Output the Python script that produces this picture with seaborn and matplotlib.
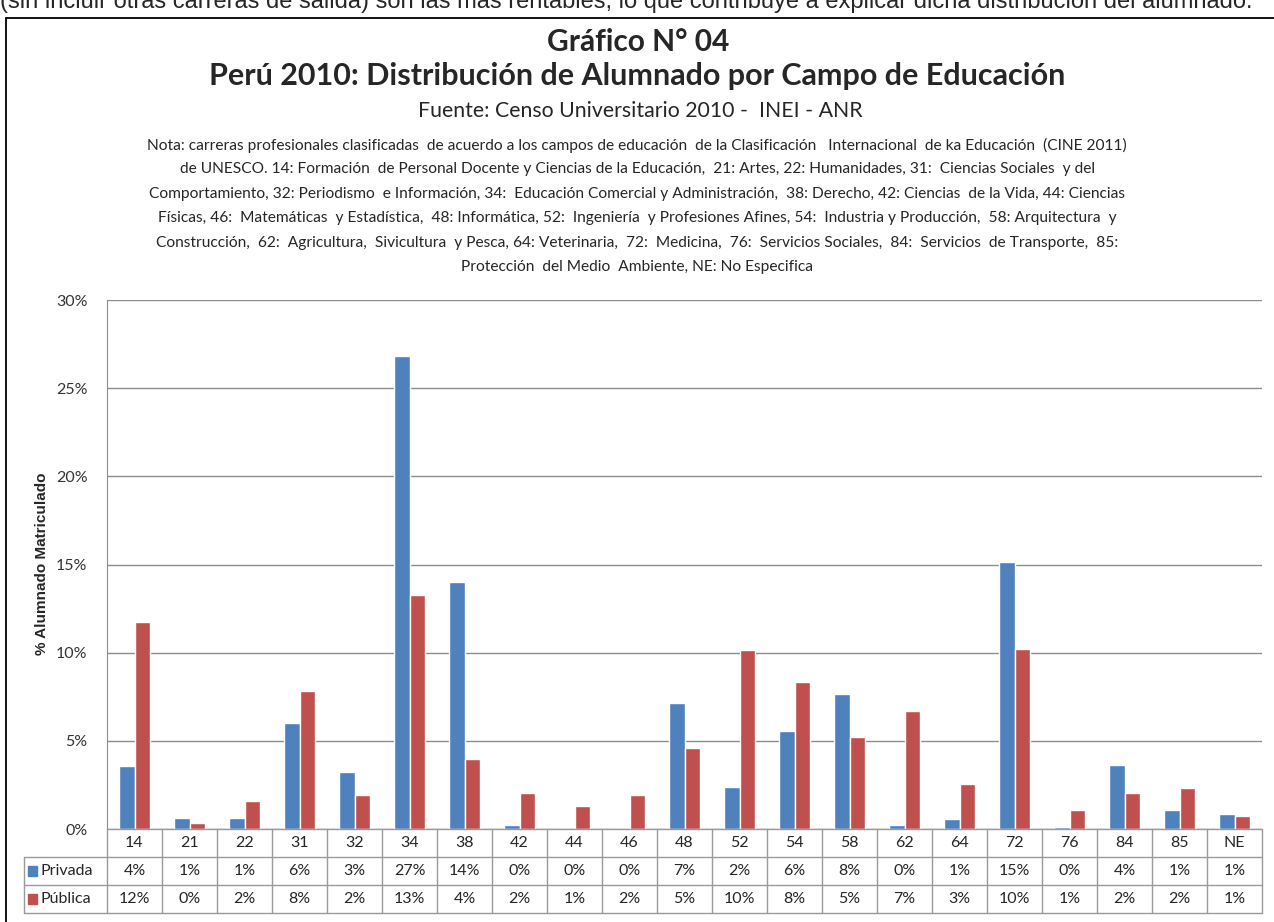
import matplotlib
matplotlib.use("Agg")
import matplotlib.pyplot as plt
import matplotlib.transforms as mtransforms
from matplotlib.patches import Rectangle
from matplotlib.lines import Line2D
import seaborn as sns
import pandas as pd

# --- data ---
campos = ['14', '21', '22', '31', '32', '34', '38', '42', '44', '46', '48',
          '52', '54', '58', '62', '64', '72', '76', '84', '85', 'NE']
privada = [3.6, 0.6, 0.6, 6.0, 3.25, 26.8, 14.0, 0.2, 0.02, 0.0, 7.15,
           2.4, 5.55, 7.65, 0.2, 0.55, 15.15, 0.1, 3.65, 1.1, 0.85]
publica = [11.75, 0.35, 1.6, 7.85, 1.9, 13.25, 3.95, 2.05, 1.3, 1.95, 4.6,
           10.15, 8.35, 5.2, 6.7, 2.55, 10.2, 1.05, 2.05, 2.3, 0.75]
series = ['Privada', 'Pública']
colores = ['#4F81BD', '#C0504D']
yticks = [0, 5, 10, 15, 20, 25, 30]

top_line = ("(sin incluir otras carreras de salida) son las más rentables, "
            "lo que contribuye a explicar dicha distribución del alumnado.")
titulo1 = "Gráfico N° 04"
titulo2 = "Perú 2010: Distribución de Alumnado por Campo de Educación"
fuente = "Fuente: Censo Universitario 2010 -  INEI - ANR"
nota = [
    "Nota: carreras profesionales clasificadas  de acuerdo a los campos de educación  de la Clasificación   Internacional  de ka Educación  (CINE 2011)",
    "de UNESCO. 14: Formación  de Personal Docente y Ciencias de la Educación,  21: Artes, 22: Humanidades, 31:  Ciencias Sociales  y del",
    "Comportamiento, 32: Periodismo  e Información, 34:  Educación Comercial y Administración,  38: Derecho, 42: Ciencias  de la Vida, 44: Ciencias",
    "Físicas, 46:  Matemáticas  y Estadística,  48: Informática, 52:  Ingeniería  y Profesiones Afines, 54:  Industria y Producción,  58: Arquitectura  y",
    "Construcción,  62:  Agricultura,  Sivicultura  y Pesca, 64: Veterinaria,  72:  Medicina,  76:  Servicios Sociales,  84:  Servicios  de Transporte,  85:",
    "Protección  del Medio  Ambiente, NE: No Especifica",
]

df = pd.DataFrame({
    'campo': campos * 2,
    'valor': privada + publica,
    'sector': [series[0]] * len(campos) + [series[1]] * len(campos),
})

W, H = 1274, 922
sns.set_style("white")
plt.rcParams['font.family'] = ['Lato', 'DejaVu Sans']

fig = plt.figure(figsize=(W / 100, H / 100), dpi=100)


def fy(y):
    return 1 - y / H


def fx(x):
    return x / W


ax = fig.add_axes([fx(107), fy(829), fx(1262) - fx(107), fy(300) - fy(829)])
sns.barplot(data=df, x='campo', y='valor', hue='sector', palette=colores,
            width=0.56, saturation=1, legend=False, ax=ax)
ax.set_ylim(0, 30)
ax.set_yticks(yticks)
ax.set_yticklabels([f"{t}%" for t in yticks], fontsize=11.5, color='#333333')
ax.tick_params(axis='y', length=0, pad=14)
ax.set_xticks([])
ax.set_xlabel('')
ax.set_ylabel('')
ax.yaxis.grid(True, color='#8c8c8c', linewidth=1)
ax.set_axisbelow(True)
for s in ['top', 'right', 'bottom']:
    ax.spines[s].set_visible(False)
ax.spines['left'].set_color('#8c8c8c')

fig.text(fx(42), fy(564), "% Alumnado Matriculado", rotation=90, ha='center',
         va='center', fontsize=11, fontweight='bold', family='Liberation Sans')

# --- data table under the axis ---
tr = mtransforms.blended_transform_factory(ax.transData, fig.transFigure)
gcol = '#9a9a9a'
rows_y = [829, 857, 885, 913]
n = len(campos)
for i in range(n + 1):
    fig.add_artist(Line2D([i - 0.5, i - 0.5], [fy(829), fy(913)], transform=tr,
                          color=gcol, lw=1))
fig.add_artist(Line2D([fx(107), fx(1262)], [fy(829), fy(829)], color=gcol, lw=1))
for y in rows_y[1:]:
    fig.add_artist(Line2D([fx(24), fx(1262)], [fy(y), fy(y)], color=gcol, lw=1))
fig.add_artist(Line2D([fx(24), fx(24)], [fy(857), fy(913)], color=gcol, lw=1))

for i, c in enumerate(campos):
    fig.text(i, fy(843), c, transform=tr, ha='center', va='center', fontsize=11.5)
for r, vals in enumerate([privada, publica]):
    yc = (rows_y[r + 1] + rows_y[r + 2]) / 2
    for i, v in enumerate(vals):
        fig.text(i, fy(yc), f"{int(v + 0.5)}%", transform=tr, ha='center',
                 va='center', fontsize=11.5)
    fig.add_artist(Rectangle((fx(28), fy(yc + 5)), fx(9), 10 / H,
                             color=colores[r], transform=fig.transFigure))
    fig.text(fx(40), fy(yc), series[r], ha='left', va='center', fontsize=11.5)

# --- titles and note ---
fig.text(fx(638), fy(42), titulo1, ha='center', va='center', fontsize=21.5,
         fontweight='bold')
fig.text(fx(637), fy(76), titulo2, ha='center', va='center', fontsize=22,
         fontweight='bold')
fig.text(fx(640), fy(111), fuente, ha='center', va='center', fontsize=15.3)
for k, line in enumerate(nota):
    fig.text(fx(637), fy(145 + 24.4 * k), line, ha='center', va='center',
             fontsize=11.2)

# cut-off text of the page above the chart box
fig.text(0, fy(2), top_line, ha='left', va='center', fontsize=17,
         family='Liberation Sans')
fig.add_artist(Line2D([fx(6), 1], [fy(18), fy(18)], color='black', lw=1.3))
fig.add_artist(Line2D([fx(6), fx(6)], [fy(18), 0], color='black', lw=1.3))

fig.savefig('out.png', dpi=100)
